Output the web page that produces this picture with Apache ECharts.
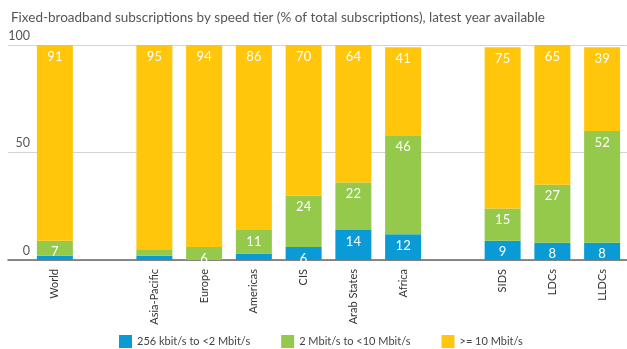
<!DOCTYPE html>
<html>
<head>
<meta charset="utf-8">
<script src="https://cdn.jsdelivr.net/npm/echarts@6/dist/echarts.min.js"></script>
<style>
  html, body { margin: 0; padding: 0; background: #fff; }
  #chart { width: 627px; height: 349px; }
</style>
</head>
<body>
<div id="chart"></div>
<script>
// Regions, with blank entries used as spacers between groups
const categories = ['World', '', 'Asia-Pacific', 'Europe', 'Americas', 'CIS', 'Arab States', 'Africa', '', 'SIDS', 'LDCs', 'LLDCs'];
const tierNames = ['256 kbit/s to <2 Mbit/s', '2 Mbit/s to <10 Mbit/s', '>= 10 Mbit/s'];
const lowSpeed  = [2, null, 2, 0, 3, 6, 14, 12, null, 9, 8, 8];
const midSpeed  = [7, null, 3, 6, 11, 24, 22, 46, null, 15, 27, 52];
const highSpeed = [91, null, 95, 94, 86, 70, 64, 41, null, 75, 65, 39];
const yTicks = [0, 50, 100];

const colors = ['#0a9bd7', '#95c94b', '#ffc60b'];
const FONT = 'Lato, "Open Sans", sans-serif';

const chart = echarts.init(document.getElementById('chart'));

function seg(name, data, color) {
  return {
    name: name,
    type: 'bar',
    stack: 'total',
    xAxisIndex: 1,
    yAxisIndex: 1,
    data: data,
    barWidth: 36,
    itemStyle: { color: color },
    label: {
      show: true,
      position: 'insideTop',
      distance: 5,
      color: '#fff',
      fontSize: 13,
      fontFamily: FONT,
      formatter: p => (p.value >= 5 ? String(p.value) : '')
    }
  };
}

chart.setOption({
  animation: false,
  textStyle: { fontFamily: FONT },
  title: {
    text: 'Fixed-broadband subscriptions by speed tier (% of total subscriptions), latest year available',
    left: 6,
    top: 6,
    textStyle: { fontSize: 13.5, fontWeight: 'normal', color: '#555', fontFamily: FONT }
  },
  legend: {
    bottom: 1,
    left: 119,
    padding: 0,
    itemWidth: 13,
    itemHeight: 13,
    itemGap: 31,
    icon: 'rect',
    textStyle: { fontSize: 11, color: '#444', fontFamily: FONT },
    data: tierNames
  },
  grid: [
    { left: 8, right: 0, top: 45, height: 215 },
    { left: 30, width: 603, top: 45, height: 215 }
  ],
  xAxis: [
    {
      gridIndex: 0, type: 'value', min: 0, max: 1,
      axisLine: { show: true, lineStyle: { color: '#6b6660', width: 1.5 } },
      axisTick: { show: false }, axisLabel: { show: false }, splitLine: { show: false }
    },
    {
      gridIndex: 1, type: 'category', data: categories,
      axisLine: { show: false }, axisTick: { show: false },
      axisLabel: { rotate: 90, interval: 0, margin: 9, color: '#333', fontSize: 11, fontFamily: FONT }
    }
  ],
  yAxis: [
    {
      gridIndex: 0, type: 'value', min: 0, max: 100, interval: 50,
      axisLine: { show: false }, axisTick: { show: false },
      axisLabel: {
        inside: true, verticalAlign: 'bottom', align: 'right', margin: 22,
        padding: [0, 0, 3, 0],
        color: '#555', fontSize: 12.5, fontFamily: FONT,
        formatter: v => (yTicks.includes(v) ? String(v) : '')
      },
      splitLine: { lineStyle: { color: '#d4d4d4', width: 1 } }
    },
    {
      gridIndex: 1, type: 'value', min: 0, max: 100, show: false
    }
  ],
  series: [
    seg(tierNames[0], lowSpeed, colors[0]),
    seg(tierNames[1], midSpeed, colors[1]),
    seg(tierNames[2], highSpeed, colors[2])
  ]
});
</script>
</body>
</html>
